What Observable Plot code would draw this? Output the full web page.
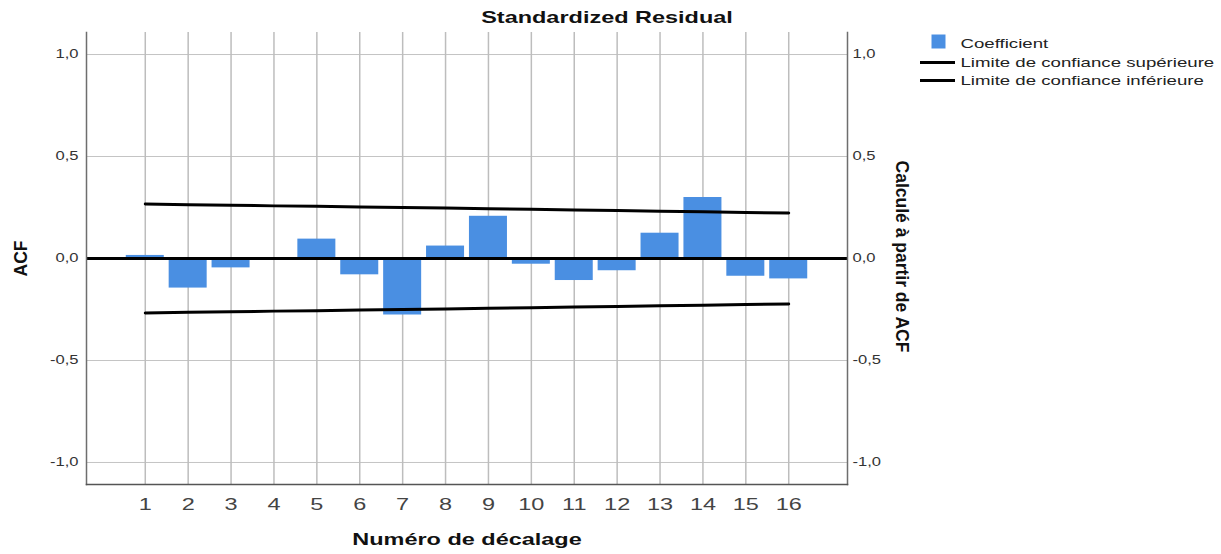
<!DOCTYPE html>
<html>
<head>
<meta charset="utf-8">
<script src="https://cdn.jsdelivr.net/npm/d3@7"></script>
<script src="https://cdn.jsdelivr.net/npm/@observablehq/plot@0.6"></script>
<style>
  html, body { margin: 0; padding: 0; background: white; }
</style>
</head>
<body>
<script>
// ---- data ----
const lags = [1, 2, 3, 4, 5, 6, 7, 8, 9, 10, 11, 12, 13, 14, 15, 16];
const coefficient = [0.015, -0.145, -0.046, 0.002, 0.095, -0.080, -0.277, 0.061, 0.207, -0.028, -0.108, -0.060, 0.124, 0.299, -0.087, -0.100];
const upperLimit = [0.267, 0.264, 0.261, 0.258, 0.256, 0.253, 0.250, 0.247, 0.244, 0.241, 0.238, 0.235, 0.232, 0.229, 0.226, 0.223];
const lowerLimit = [-0.267, -0.264, -0.261, -0.258, -0.256, -0.253, -0.250, -0.247, -0.244, -0.241, -0.238, -0.235, -0.232, -0.229, -0.226, -0.223];
const yTicks = [-1, -0.5, 0, 0.5, 1];
const yGrid = [-1, -0.5, 0.5, 1];
const title = "Standardized Residual";
const xTitle = "Numéro de décalage";
const yTitle = "ACF";
const y2Title = "Calculé à partir de ACF";
const legendLabels = ["Coefficient", "Limite de confiance supérieure", "Limite de confiance inférieure"];

const rows = lags.map((lag, i) => ({lag, acf: coefficient[i], up: upperLimit[i], lo: lowerLimit[i]}));
const fmt = d => d.toFixed(1).replace(".", ",");
const FONT = "'Liberation Sans', Arial, sans-serif";
const BLUE = "#4a8fe2";

const lineSymbol = {
  draw(context, size) {
    const r = Math.sqrt(size / Math.PI);
    context.moveTo(-r, 0);
    context.lineTo(r, 0);
  }
};

const chart = Plot.plot({
  width: 1221,
  height: 554,
  marginLeft: 86,
  marginRight: 374,
  marginTop: 32,
  marginBottom: 70,
  style: {fontFamily: FONT, background: "white", color: "#222"},
  x: {type: "band", domain: lags, paddingInner: 0.114, paddingOuter: 0.927, align: 0.5, round: false},
  y: {domain: [-1.108, 1.108]},
  marks: [
    Plot.ruleY(yGrid, {stroke: "#c4c4c4", strokeWidth: 1}),
    Plot.ruleX(lags, {x: d => d, stroke: "#bdbdbd", strokeWidth: 1.5}),
    Plot.barY(rows, {x: "lag", y: "acf", fill: BLUE}),
    Plot.ruleY([0], {stroke: "black", strokeWidth: 3}),
    Plot.lineY(rows, {x: "lag", y: "up", stroke: "black", strokeWidth: 3}),
    Plot.lineY(rows, {x: "lag", y: "lo", stroke: "black", strokeWidth: 3}),
    Plot.frame({anchor: "left", stroke: "#6e6e6e", strokeWidth: 1.5}),
    Plot.frame({anchor: "right", stroke: "#6e6e6e", strokeWidth: 1.5}),
    Plot.frame({anchor: "bottom", stroke: "#555", strokeWidth: 1.5}),
    Plot.axisY({anchor: "left", ticks: yTicks, tickFormat: fmt, tickSize: 0, tickPadding: 8, fontSize: 12, color: "#333", label: null}),
    Plot.axisY({anchor: "right", ticks: yTicks, tickFormat: fmt, tickSize: 0, tickPadding: 5, fontSize: 12, color: "#333", label: null}),
    Plot.axisX({anchor: "bottom", tickSize: 0, tickPadding: 13, fontSize: 17, color: "#444", label: null}),
    // titles
    Plot.text([title], {frameAnchor: "top", dx: 140, dy: -15, lineAnchor: "middle", textAnchor: "middle", fontSize: 17, fontWeight: "bold", fill: "#111"}),
    Plot.text([xTitle], {frameAnchor: "bottom", dx: 0, dy: 55, lineAnchor: "middle", textAnchor: "middle", fontSize: 17, fontWeight: "bold", fill: "#111"}),
    Plot.text([yTitle], {frameAnchor: "left", dx: -65, rotate: -90, lineAnchor: "middle", textAnchor: "middle", fontSize: 17.5, fontWeight: "bold", fill: "#111"}),
    Plot.text([y2Title], {frameAnchor: "right", dx: 54, dy: -2, rotate: 90, lineAnchor: "middle", textAnchor: "middle", fontSize: 17.5, fontWeight: "bold", fill: "#111"}),
    // legend
    Plot.dot([legendLabels[0]], {frameAnchor: "top-right", dx: 91, dy: 9, symbol: "square", r: 7.9, fill: BLUE, stroke: null}),
    Plot.dot([legendLabels[1]], {frameAnchor: "top-right", dx: 90, dy: 30, symbol: lineSymbol, r: 17.5, fill: "none", stroke: "black", strokeWidth: 3}),
    Plot.dot([legendLabels[2]], {frameAnchor: "top-right", dx: 90, dy: 48, symbol: lineSymbol, r: 17.5, fill: "none", stroke: "black", strokeWidth: 3}),
    Plot.text([legendLabels[0]], {frameAnchor: "top-right", dx: 113, dy: 11, lineAnchor: "middle", textAnchor: "start", fontSize: 13.5, fill: "#222"}),
    Plot.text([legendLabels[1]], {frameAnchor: "top-right", dx: 113, dy: 30, lineAnchor: "middle", textAnchor: "start", fontSize: 13.5, fill: "#222"}),
    Plot.text([legendLabels[2]], {frameAnchor: "top-right", dx: 113, dy: 48, lineAnchor: "middle", textAnchor: "start", fontSize: 13.5, fill: "#222"})
  ]
});

document.body.append(chart);

// the reference picture is horizontally stretched: widen the upright text the same way
const STRETCH = 1.38;
d3.select(chart).selectAll("text").each(function () {
  const own = this.getAttribute("transform") || "";
  const parent = (this.parentNode && this.parentNode.getAttribute && this.parentNode.getAttribute("transform")) || "";
  if (own.includes("rotate") || parent.includes("rotate")) return;
  const L = this.getComputedTextLength();
  if (L > 0) {
    this.setAttribute("textLength", (L * STRETCH).toFixed(2));
    this.setAttribute("lengthAdjust", "spacingAndGlyphs");
  }
});
</script>
</body>
</html>
